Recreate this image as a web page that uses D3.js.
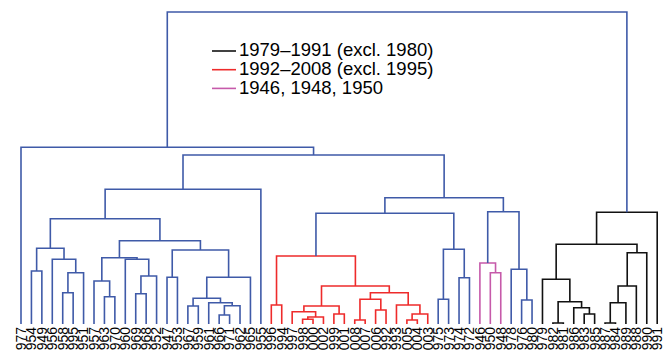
<!DOCTYPE html>
<html>
<head>
<meta charset="utf-8">
<script src="https://cdn.jsdelivr.net/npm/d3@7"></script>
<style>
  body { margin: 0; background: #fff; }
  text { font-family: "Liberation Sans", Arial, Helvetica, sans-serif; }
</style>
</head>
<body>
<svg id="chart" width="670" height="350"></svg>
<script>
// leaf order, left to right
const leaves = ["1977","1954","1949","1956","1958","1995","1951","1957","1963","1970","1960","1969",
  "1968","1952","1947","1953","1967","1959","1961","1966","1971","1962","1965","1955",
  "1996","1994","1997","1998","2000","2002","1999","2001","2008","2007","2006","1992",
  "1993","2005","2004","2003","1975","1973","1974","1972","1946","1950","1948","1978",
  "1976","1980","1979","1982","1981","1986","1983","1985","1987","1984","1989","1988",
  "1990","1991"];

// linkage rows: [left, right, height]; "nK" refers to row K
const merges = [
  ["1954","1949",53], ["1958","1995",31.3], ["n1","1951",51.3], ["1956","n2",64.7],
  ["n0","n3",75.7], ["1963","1970",27.3], ["1957","n5",43], ["1969","1968",30.3],
  ["n7","1952",48], ["1960","n8",64.7], ["n6","n9",66.3], ["1947","1953",46.7],
  ["1967","1959",18], ["1966","1971",9], ["n13","1962",18.3], ["1961","n14",21.3],
  ["n12","n15",25.7], ["n16","1965",46.7], ["n11","n17",74], ["n10","n18",83.3],
  ["n4","n19",105.3], ["n20","1955",134.7],
  ["1996","1994",19], ["1998","2000",4.7], ["n23","2002",7], ["1997","n24",12.3],
  ["1999","2001",10], ["n25","n26",18], ["2008","2007",4], ["2006","1992",14],
  ["n28","n29",24.7], ["2005","2004",4], ["n31","2003",10], ["1993","n32",19],
  ["n30","n33",31.3], ["n27","n34",38], ["n22","n35",68],
  ["1975","1973",24.7], ["1974","1972",46.3], ["n37","n38",74.7], ["n36","n39",110.7],
  ["1950","1948",51.3], ["1946","n41",61], ["1976","1980",24], ["1978","n43",54.7],
  ["n42","n44",112.3], ["n40","n45",126.3], ["n21","n46",169], ["1977","n47",176.7],
  ["1982","1981",1], ["1983","1985",10], ["1986","n50",16.3], ["n49","n51",22.3],
  ["1979","n52",44.7], ["1987","1984",1], ["n54","1989",21.3], ["n55","1988",38],
  ["n56","1990",71.3], ["n53","n57",79.7], ["n58","1991",111.7],
  ["n48","n59",312]
];

const legendLabels = ["1979\u20131991 (excl. 1980)", "1992\u20132008 (excl. 1995)", "1946, 1948, 1950"];
const groupYears = [
  ["1979","1981","1982","1983","1984","1985","1986","1987","1988","1989","1990","1991"],
  ["1992","1993","1994","1996","1997","1998","1999","2000","2001","2002","2003","2004","2005","2006","2007","2008"],
  ["1946","1948","1950"]
];
const groupColors = ["#111111", "#ee2b2b", "#c65aaa"];
const otherColor = "#3f5aa8";

const svg = d3.select("#chart");

const x = d3.scalePoint().domain(leaves).range([21, 657.2]);
const y = d3.scaleLinear().domain([0, 312]).range([324, 12]);

// resolve nodes
const nodes = {};
leaves.forEach(l => { nodes[l] = { x: x(l), h: 0, years: [l] }; });
merges.forEach((m, i) => {
  const a = nodes[m[0]], b = nodes[m[1]];
  nodes["n" + i] = { x: (a.x + b.x) / 2, h: m[2], years: a.years.concat(b.years), a, b };
});

function colorOf(n) {
  for (let g = 0; g < groupYears.length; g++) {
    if (n.years.every(yr => groupYears[g].includes(yr))) return groupColors[g];
  }
  return otherColor;
}

svg.append("g")
  .selectAll("path")
  .data(merges.map((m, i) => nodes["n" + i]))
  .enter()
  .append("path")
  .attr("d", n => "M" + n.a.x + "," + y(n.a.h) + "V" + y(n.h) + "H" + n.b.x + "V" + y(n.b.h))
  .attr("fill", "none")
  .attr("stroke", n => colorOf(n))
  .attr("stroke-width", 1.6);

// leaf labels (clipped at the bottom edge, as in the original)
svg.append("g")
  .selectAll("text")
  .data(leaves)
  .enter()
  .append("text")
  .attr("transform", d => "translate(" + x(d) + ",327) rotate(-90)")
  .attr("text-anchor", "end")
  .attr("dy", "0.35em")
  .style("font-size", "14px")
  .attr("fill", "#000")
  .text(d => d);

// legend
const legend = svg.append("g").attr("transform", "translate(212,50)");
legendLabels.forEach((lab, i) => {
  const row = legend.append("g").attr("transform", "translate(0," + (i * 18.7) + ")");
  row.append("line")
    .attr("x1", 0).attr("x2", 24).attr("y1", 1).attr("y2", 1)
    .attr("stroke", groupColors[i]).attr("stroke-width", 1.6);
  row.append("text")
    .attr("x", 27).attr("y", 0)
    .attr("dy", "0.35em")
    .style("font-size", "18.5px")
    .attr("fill", "#000")
    .text(lab);
});
</script>
</body>
</html>
